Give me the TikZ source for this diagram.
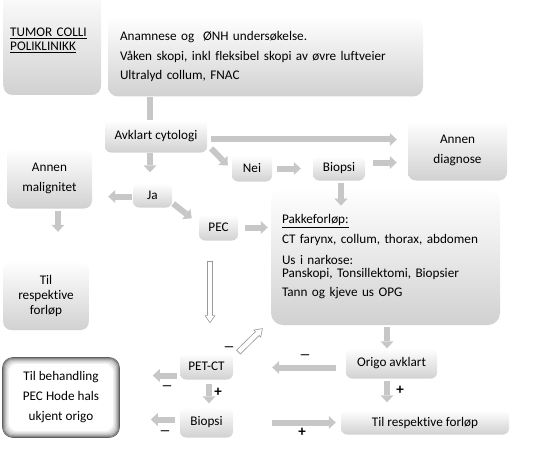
\documentclass[tikz,border=0pt]{standalone}
\usepackage{fontspec}
\setmainfont{Carlito}[Ligatures={TeX,NoCommon}]
\usetikzlibrary{positioning,arrows.meta}

\begin{document}
\begin{tikzpicture}[x=1pt, y=1pt, font=\fontsize{13.2}{15}\selectfont]
  \tikzstyle{box} = [rounded corners=6pt, top color=white, bottom color=black!18, inner sep=0pt, align=center]
  \tikzstyle{goal} = [rounded corners=10pt, draw=black!70, line width=1.6pt, fill=white, inner sep=0pt, align=center, font=\fontsize{13.2}{20}\selectfont]
  \tikzstyle{blk} = [line width=6pt, draw=black!22, -{Triangle[width=13pt,length=7pt,line width=0pt]}]
  \tikzstyle{hollow} = [line width=6pt, draw=black!40, -{Triangle[width=11pt,length=8pt,line width=0pt]},
    postaction={draw=white, line width=4.4pt, -{Triangle[width=8pt,length=6pt,line width=0pt]}, shorten >=1.2pt, shorten <=0.8pt}]
  \tikzstyle{sign} = [inner sep=0pt, font=\bfseries\fontsize{11.5}{12}\selectfont]
  \tikzstyle{plus} = [inner sep=0pt, font=\bfseries\fontsize{15}{15}\selectfont]
  \useasboundingbox (0,0) rectangle (537,-465);

  % Define nodes
  \node[box, rounded corners=9pt, minimum width=97.6pt, minimum height=109pt, text width=84pt, align=left, font=\fontsize{13.2}{13.5}\selectfont] (tumor) at (52.2,-40.5) {\underline{TUMOR COLLI}\\\underline{POLIKLINIKK}};
  \node[box, rounded corners=10pt, minimum width=315pt, minimum height=80pt, text width=291pt, align=left, font=\fontsize{13.2}{19.8}\selectfont] (main) at (265.5,-56.5) {Anamnese og~ ØNH undersøkelse.\\Våken skopi, inkl fleksibel skopi av øvre luftveier\\Ultralyd collum, FNAC};
  \node[box, minimum width=102pt, minimum height=32pt] (avk) at (156,-136.5) {Avklart cytologi};
  \node[box, rounded corners=8pt, minimum width=99pt, minimum height=60pt, font=\fontsize{13.2}{20}\selectfont] (andiag) at (457.5,-150.5) {Annen\\diagnose};
  \node[box, minimum width=40pt, minimum height=26pt] (nei) at (252,-168.5) {Nei};
  \node[box, minimum width=52pt, minimum height=24pt] (bio1) at (339,-168.5) {Biopsi};
  \node[box, rounded corners=8pt, minimum width=85pt, minimum height=60pt, font=\fontsize{13.2}{20}\selectfont] (malig) at (49.5,-178.5) {Annen\\malignitet};
  \node[box, minimum width=39pt, minimum height=24pt] (ja) at (152.5,-195.5) {Ja};
  \node[box, minimum width=39pt, minimum height=26pt] (pec) at (218.5,-227.5) {PEC};
  \node[box, rounded corners=12pt, minimum width=229pt, minimum height=137pt, text width=207pt, align=left, font=\fontsize{13.2}{13.5}\selectfont] (pakke) at (385.5,-256.5)
    {\underline{Pakkeforløp:}\\[6.5pt]CT farynx, collum, thorax, abdomen\\[7.5pt]Us i narkose:\\Panskopi, Tonsillektomi, Biopsier\\[5.5pt]Tann og kjeve us OPG};
  \node[box, rounded corners=8pt, minimum width=85.6pt, minimum height=69pt] (tilresp1) at (46,-295.5) {Til\\respektive\\forløp};
  \node[box, minimum width=53pt, minimum height=26pt] (pet) at (206.5,-366.5) {PET-CT};
  \node[box, minimum width=91pt, minimum height=30pt] (origo) at (391.5,-363.5) {Origo avklart};
  \node[box, minimum width=168pt, minimum height=24pt] (tilresp2) at (425,-422.5) {Til respektive forløp};
  \node[box, minimum width=53pt, minimum height=30pt] (bio2) at (206.5,-422.5) {Biopsi};
  \node[goal, minimum width=116pt, minimum height=79pt] (tilbeh) at (61,-397.5) {Til behandling\\PEC Hode hals\\ukjent origo};
  \foreach \ins/\gr in {1/50,2/38,3/28,4/19,5/12,6/6}
    \draw[black!\gr, line width=1.2pt, rounded corners=9pt] ([shift={(\ins,-\ins)}]tilbeh.north west) rectangle ([shift={(-\ins,\ins)}]tilbeh.south east);

  % Arrows
  \draw[blk, -] ([xshift=-6pt]avk.north) -- ([xshift=-6pt]avk.north |- main.south);
  \draw[blk, shorten <=4pt, shorten >=11pt] ([yshift=-3pt]avk.east) -- ([yshift=-3pt]avk.east -| andiag.west);
  \draw[blk] ([shift={(4,-12)}]avk.east) -- ([shift={(-4,3)}]nei.west);
  \draw[blk, shorten <=5pt, shorten >=12pt] (nei) -- (bio1);
  \draw[blk, shorten <=8pt, shorten >=11pt] ([yshift=6pt]bio1.east) -- ([yshift=6pt]bio1.east -| andiag.west);
  \draw[blk, shorten <=2pt] ([xshift=2pt]bio1.south) -- ++(0,-25);
  \draw[blk, shorten >=11pt] ([xshift=-6pt]avk.south) -- ([xshift=-6pt]avk.south |- ja.north);
  \draw[blk, shorten <=1pt, shorten >=16pt] ([yshift=-1pt]ja.west) -- ([yshift=-1pt]ja.west -| malig.east);
  \draw[blk] ([shift={(1,4)}]ja.south east) -- ([shift={(-7,-4)}]pec.north west);
  \draw[blk, shorten <=7pt, shorten >=3pt] (pec.east) -- (pec.east -| pakke.west);
  \draw[blk, shorten <=2pt, shorten >=29pt] ([xshift=8.5pt]malig.south) -- ([xshift=8.5pt]malig.south |- tilresp1.north);
  \draw[blk, shorten <=2pt] ([xshift=1.5pt]pakke.south) -- ([xshift=1.5pt]pakke.south |- origo.north);
  \draw[blk, shorten <=10pt, shorten >=39pt] ([yshift=-4pt]origo.west) -- ([yshift=-4pt]origo.west -| pet.east);
  \draw[blk, shorten <=2pt, shorten >=8pt] ([xshift=-4.5pt]origo.south) -- ([xshift=-4.5pt]origo.south |- tilresp2.north);
  \draw[blk, shorten <=3pt, shorten >=33pt] ([yshift=-9pt]pet.west) -- ([yshift=-9pt]pet.west -| tilbeh.east);
  \draw[blk, shorten <=4pt, shorten >=4pt] ([xshift=2.5pt]pet.south) -- ([xshift=2.5pt]pet.south |- bio2.north);
  \draw[blk, shorten <=5pt, shorten >=31pt] ([yshift=3pt]bio2.west) -- ([yshift=3pt]bio2.west -| tilbeh.east);
  \draw[blk, shorten <=39pt, shorten >=5pt] (bio2) -- (tilresp2);
  \draw[hollow] ([shift={(-8.5,-20)}]pec.south) -- ([shift={(3.5,30)}]pet.north);
  \draw[hollow] ([shift={(5,1)}]pet.north east) -- ([shift={(-8,-3)}]pakke.south west);

  % Signs
  \node[sign] (m1) at (229,-349) {\textemdash};
  \node[sign] (m2) at (305,-357) {\textemdash};
  \node[plus] (p1) at (400,-390) {+};
  \node[sign] (m3) at (167,-388) {\textemdash};
  \node[plus] (p2) at (218,-392) {+};
  \node[sign] (m4) at (165,-433) {\textemdash};
  \node[plus] (p3) at (302,-432) {+};
\end{tikzpicture}
\end{document}
